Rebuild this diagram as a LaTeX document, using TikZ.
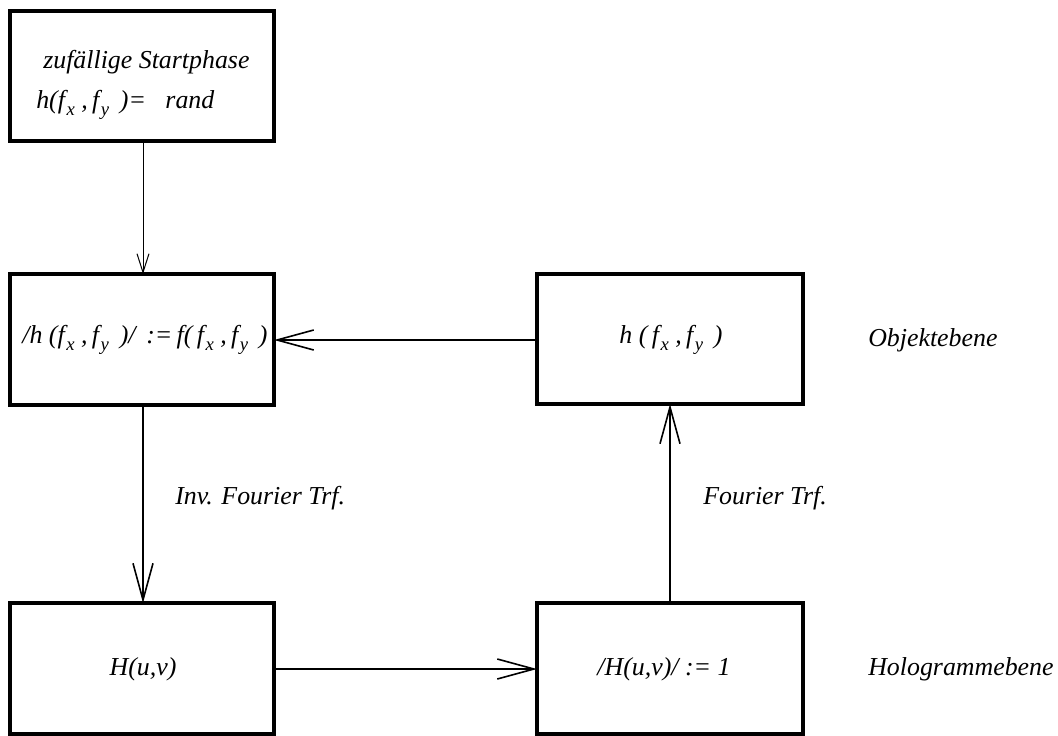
\documentclass[tikz,border=0pt]{standalone}
\usepackage{fontspec}
\setmainfont{Liberation Serif}
\usetikzlibrary{arrows.meta}
% lowered index, e.g. f\sub{x}
\newcommand{\sub}[1]{\kern1.2pt\raisebox{-0.28em}{\fontsize{14}{16}\selectfont #1}}
\tikzset{
  box/.style={draw, line width=3.5pt},
  lbl/.style={font=\fontsize{19.4}{23}\selectfont\itshape, inner sep=0pt},
  flow/.style={line width=1.2pt, -{Straight Barb[length=27.5pt, width=15pt, line width=1.2pt]}},
  thinflow/.style={line width=0.75pt, -{Straight Barb[length=14pt, width=9pt, line width=0.75pt]}}
}
\begin{document}
\begin{tikzpicture}[x=0.75pt, y=-0.75pt]
\useasboundingbox (0,0) rectangle (1058,736);
% boxes
\draw[box] (10,11) rectangle (274,141);
\draw[box] (10,274) rectangle (274,405);
\draw[box] (537,274) rectangle (803,404);
\draw[box] (10,603) rectangle (274,734);
\draw[box] (537,603) rectangle (803,734);
% anchors of the boxes
\coordinate (start-s) at (143,141);
\coordinate (amp-n) at (143,274);
\coordinate (amp-s) at (143,405);
\coordinate (amp-e) at (274,340);
\coordinate (obj-w) at (537,340);
\coordinate (obj-s) at (670,404);
\coordinate (holo-n) at (143,603);
\coordinate (holo-e) at (274,669);
\coordinate (one-w) at (537,669);
\coordinate (one-n) at (670,603);
% texts in the boxes
\node[lbl, anchor=base west] (t1) at (43,68) {zufällige Startphase};
\node[lbl, anchor=base west] (t2) at (36,108) {h(f\sub{x} ,\,f\sub{y} \,)=\ \ \ rand};
\node[lbl] (amp) at (145,340) {/h (f\sub{x} ,\,f\sub{y} \,)/ \,:=\,f(\,f\sub{x} ,\,f\sub{y} \,)};
\node[lbl] (obj) at (671,340) {h (\,f\sub{x} ,\,f\sub{y} \,)};
\node[lbl] (holo) at (143,669) {H(u,v)};
\node[lbl] (one) at (664,669) {/H(u,v)/ := 1};
% side labels
\node[lbl, anchor=west] (inv) at (175,498) {Inv. Fourier Trf.};
\node[lbl, anchor=west] (fwd) at (703,498) {Fourier Trf.};
\node[lbl, anchor=west] (oe) at (868,340) {Objektebene};
\node[lbl, anchor=west] (he) at (868,669) {Hologrammebene};
% connectors
\draw[thinflow] (start-s) -- (amp-n);
\draw[flow] (obj-w) -- (amp-e);
\draw[flow] (amp-s) -- (holo-n);
\draw[flow] (holo-e) -- (one-w);
\draw[flow] (one-n) -- (obj-s);
\end{tikzpicture}
\end{document}
